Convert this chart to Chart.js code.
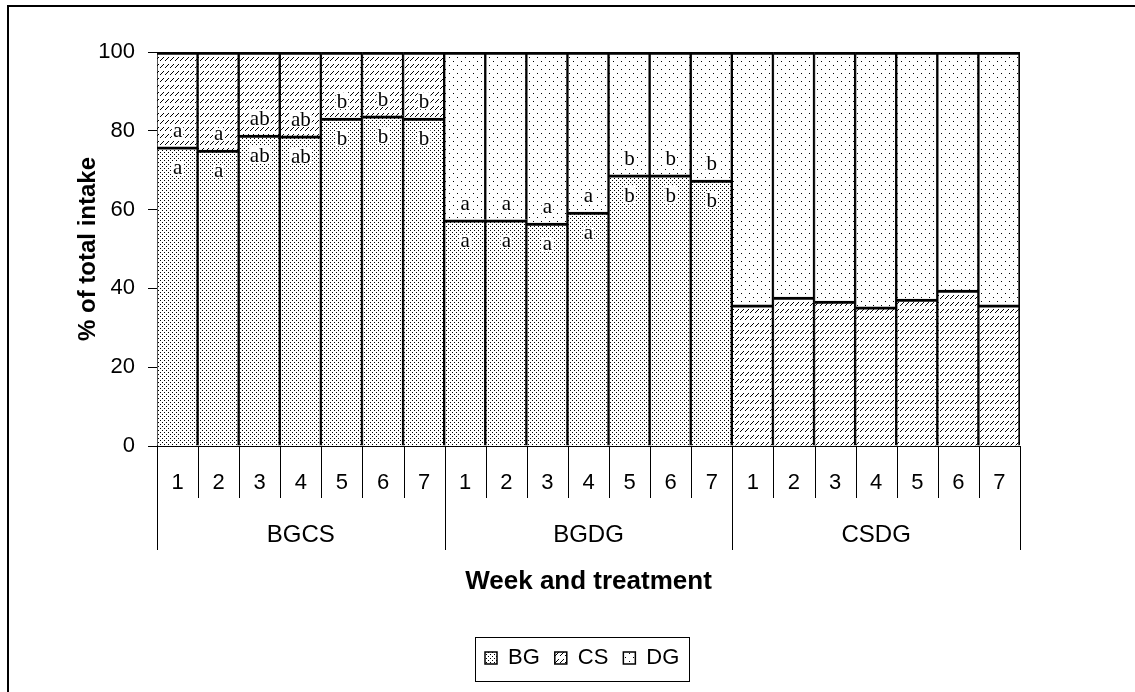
<!DOCTYPE html>
<html>
<head>
<meta charset="utf-8">
<script src="https://cdn.jsdelivr.net/npm/chart.js@4.4.1/dist/chart.umd.min.js"></script>
<style>
  html, body { margin: 0; padding: 0; background: #fff; }
  #wrap { width: 1135px; height: 692px; position: relative; }
</style>
</head>
<body>
<div id="wrap"><canvas id="intakeChart" width="1135" height="692"></canvas></div>
<script>
// categories
const weeks = ['1', '2', '3', '4', '5', '6', '7'];
const treatments = ['BGCS', 'BGDG', 'CSDG'];
const yTicks = [0, 20, 40, 60, 80, 100];

// % of total intake per feed, 7 weeks x 3 treatments
const bgShare = [75.9, 75.1, 78.9, 78.7, 83.2, 83.8, 83.2,
                 57.4, 57.4, 56.6, 59.4, 68.8, 68.8, 67.5,
                 null, null, null, null, null, null, null];
const csShare = [24.1, 24.9, 21.1, 21.3, 16.8, 16.2, 16.8,
                 null, null, null, null, null, null, null,
                 35.8, 37.8, 36.8, 35.3, 37.3, 39.6, 35.8];
const dgShare = [null, null, null, null, null, null, null,
                 42.6, 42.6, 43.4, 40.6, 31.2, 31.2, 32.5,
                 64.2, 62.2, 63.2, 64.7, 62.7, 60.4, 64.2];

// significance letters (lower = first feed, upper = second feed)
const lowerLetters = ['a', 'a', 'ab', 'ab', 'b', 'b', 'b',
                      'a', 'a', 'a', 'a', 'b', 'b', 'b',
                      '', '', '', '', '', '', ''];
const upperLetters = ['a', 'a', 'ab', 'ab', 'b', 'b', 'b',
                      'a', 'a', 'a', 'a', 'b', 'b', 'b',
                      '', '', '', '', '', '', ''];

const labels = treatments.flatMap(() => weeks);

const canvas = document.getElementById('intakeChart');
const ctx = canvas.getContext('2d');

function makePattern(w, h, dots) {
    const c = document.createElement('canvas');
    c.width = w; c.height = h;
    const g = c.getContext('2d');
    g.fillStyle = '#fff';
    g.fillRect(0, 0, w, h);
    g.fillStyle = '#000';
    dots.forEach(([x, y]) => g.fillRect(x, y, 1, 1));
    return ctx.createPattern(c, 'repeat');
}

const bgFill = makePattern(4, 4, [[0, 0], [2, 2]]);
const csFill = makePattern(5, 7, [[0, 4], [1, 3], [2, 2], [3, 1]]);
const dgFill = makePattern(8, 8, [[1, 1], [5, 5]]);

const FONT = "'Liberation Sans', Arial, sans-serif";
const legendFont = 22, legendPad = 15;
const xAxisHeight = 160;

const decor = {
    id: 'decor',
    afterLayout(chart) {
        const lg = chart.legend;
        lg.left = 470; lg.right = 800;
        lg.top = 632; lg.bottom = 681;
    },
    afterDatasetsDraw(chart) {
        const c = chart.ctx;
        const meta = chart.getDatasetMeta(0);
        c.save();
        c.font = "21px 'Liberation Serif', 'Times New Roman', serif";
        c.textAlign = 'center';
        c.textBaseline = 'alphabetic';
        meta.data.forEach((bar, i) => {
            if (bgShare[i] == null) return;
            [[lowerLetters[i], bar.y + 27], [upperLetters[i], bar.y - 10]].forEach(([t, y]) => {
                if (!t) return;
                const w = c.measureText(t).width;
                const h = t.includes('b') ? 15 : 11;
                c.fillStyle = '#fff';
                c.fillRect(bar.x - w / 2 - 1, y - h - 1, w + 2, h + 2);
                c.fillStyle = '#000';
                c.fillText(t, bar.x, y);
            });
        });
        c.restore();
    },
    afterDraw(chart) {
        const c = chart.ctx;
        const x = chart.scales.x;
        const area = chart.chartArea;
        const step = (area.right - area.left) / labels.length;
        c.save();
        c.strokeStyle = '#000';
        c.lineWidth = 1;
        for (let i = 0; i <= labels.length; i++) {
            const px = Math.round(area.left + i * step) + 0.5;
            c.beginPath();
            c.moveTo(px, area.bottom);
            c.lineTo(px, i % weeks.length === 0 ? 550 : 498);
            c.stroke();
        }
        c.fillStyle = '#000';
        c.font = '24px ' + FONT;
        c.textAlign = 'center';
        c.textBaseline = 'middle';
        treatments.forEach((t, g) => {
            const a = x.getPixelForValue(g * weeks.length);
            const b = x.getPixelForValue(g * weeks.length + weeks.length - 1);
            c.fillText(t, (a + b) / 2, 535);
        });
        // legend frame and outer frame
        c.strokeRect(475.5, 637.5, 214, 44);
        c.lineWidth = 2;
        c.strokeRect(8, 6, 1200, 800);
        c.restore();
    }
};

new Chart(canvas, {
    type: 'bar',
    data: {
        labels: labels,
        datasets: [
            { label: 'BG', data: bgShare, backgroundColor: bgFill },
            { label: 'CS', data: csShare, backgroundColor: csFill },
            { label: 'DG', data: dgShare, backgroundColor: dgFill }
        ].map((d) => Object.assign(d, {
            borderColor: '#000',
            borderWidth: { top: 3, right: 2, bottom: 0, left: 1 },
            barPercentage: 1,
            categoryPercentage: 1
        }))
    },
    options: {
        responsive: false,
        animation: false,
        devicePixelRatio: 1,
        layout: { padding: { top: 52, right: 115, left: 0, bottom: 692 - 446 - xAxisHeight - (legendFont + legendPad + 10) } },
        plugins: {
            tooltip: { enabled: false },
            legend: {
                position: 'bottom',
                align: 'start',
                labels: {
                    color: '#000',
                    font: { family: FONT, size: legendFont },
                    boxWidth: 12,
                    boxHeight: 12,
                    padding: legendPad
                }
            }
        },
        scales: {
            x: {
                stacked: true,
                grid: { display: false, drawTicks: false },
                border: { display: true, color: '#000', width: 1 },
                ticks: {
                    color: '#000',
                    font: { family: FONT, size: 22 },
                    autoSkip: false,
                    maxRotation: 0,
                    padding: 24
                },
                title: {
                    display: true,
                    text: 'Week and treatment',
                    color: '#000',
                    font: { family: FONT, size: 26, weight: 'bold' },
                    padding: { top: 0, bottom: 9 }
                },
                afterFit(scale) { scale.height = xAxisHeight; }
            },
            y: {
                stacked: true,
                min: 0,
                max: 100,
                afterBuildTicks(scale) { scale.ticks = yTicks.map((v) => ({ value: v })); },
                grid: { drawOnChartArea: false, drawTicks: true, tickLength: 9, color: '#000' },
                border: { display: true, color: '#000', width: 1 },
                ticks: {
                    color: '#000',
                    font: { family: FONT, size: 22 },
                    padding: 13
                },
                title: {
                    display: true,
                    text: '% of total intake',
                    color: '#000',
                    font: { family: FONT, size: 24, weight: 'bold' },
                    padding: { top: 74, bottom: 0 }
                },
                afterFit(scale) { scale.width = 157; }
            }
        }
    },
    plugins: [decor]
});
</script>
</body>
</html>
